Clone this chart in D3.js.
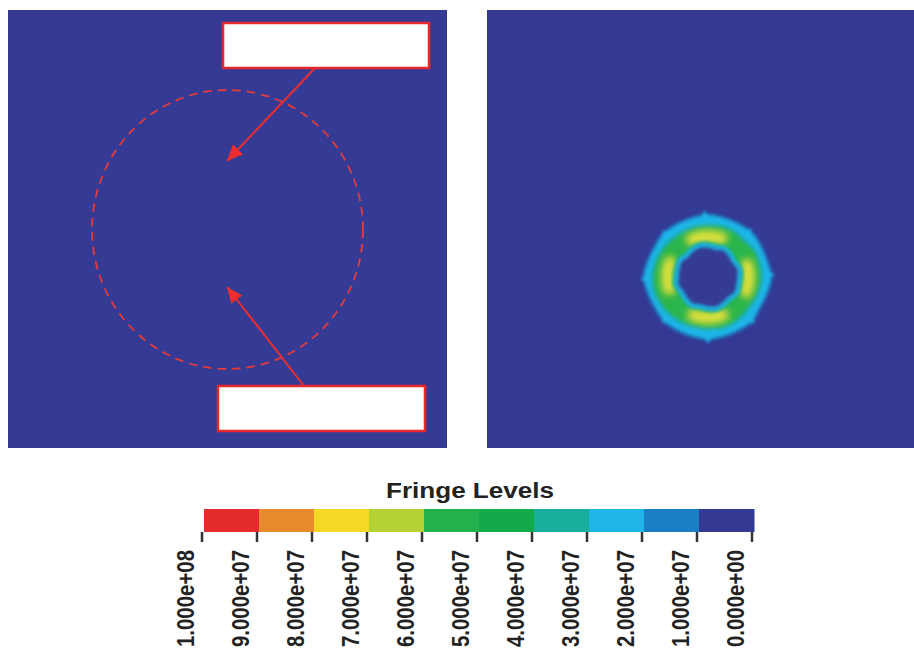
<!DOCTYPE html>
<html>
<head>
<meta charset="utf-8">
<script src="https://cdn.jsdelivr.net/npm/d3@7"></script>
<style>
  body { margin: 0; background: #fff; }
  svg { display: block; }
</style>
</head>
<body>
<svg width="914" height="656"></svg>
<script>
const svg = d3.select("svg");

// ====== Data ======

const levels = [1e8, 9e7, 8e7, 7e7, 6e7, 5e7, 4e7, 3e7, 2e7, 1e7, 0];
const levelLabels = ["1.000e+08", "9.000e+07", "8.000e+07", "7.000e+07", "6.000e+07",
    "5.000e+07", "4.000e+07", "3.000e+07", "2.000e+07", "1.000e+07", "0.000e+00"];
// colour of each band, from lowest (0-1e7) to highest (9e7-1e8)
const bandColors = ["#343a94", "#1a7ec4", "#1fb5e6", "#1aae9c", "#14a94b",
    "#22b14c", "#b4d136", "#f5d823", "#ea8a2e", "#e52b2c"];

// ring in the right panel, read around the centre every 15 degrees
const ringAngles = [0, 15, 30, 45, 60, 75, 90, 105, 120, 135, 150, 165,
    180, 195, 210, 225, 240, 255, 270, 285, 300, 315, 330, 345];
const outerEdge = [61, 60, 60, 61, 60, 60, 62, 60, 59, 61, 60, 60,
    61, 60, 60, 61, 60, 61, 63, 61, 60, 61, 60, 60];
const greenEdge = [50, 51, 51, 50, 52, 52, 52, 51, 50, 50, 51, 51,
    50, 50, 51, 52, 53, 54, 54, 53, 52, 51, 50, 50];
const holeEdge = [29, 28, 30, 29, 28, 30, 29, 29, 30, 28, 29, 30,
    29, 28, 30, 29, 28, 30, 29, 29, 30, 28, 29, 30];
// small sharp points on the outer edge
const spikeAngles = [-3, 42, 88, 135, 180, 225, 268, 315];
const spikeTips = [67, 65, 67, 66, 67, 65, 68, 65];
// value in each zone of the ring
const outerValue = 2.5e7, greenValue = 4.5e7, holeValue = 5e6;
// the four yellow patches
const patchCentres = [-2, 92, 180, 272];
const patchHalfSpan = [31, 29, 31, 29];
const patchValue = 6.5e7;

// ====== Layout ======

const leftPanel = {x: 8, y: 10, w: 439, h: 438};
const rightPanel = {x: 487, y: 10, w: 427, h: 438};
const ringCentre = [708, 277];

const color = d3.scaleQuantize().domain([0, 1e8]).range(bandColors);
const xLegend = d3.scaleLinear().domain([1e8, 0]).range([202, 752]);
const rad = d => d * Math.PI / 180;

const defs = svg.append("defs");

defs.append("marker")
    .attr("id", "head")
    .attr("viewBox", "0 -7 16 14")
    .attr("refX", 16)
    .attr("refY", 0)
    .attr("markerUnits", "userSpaceOnUse")
    .attr("markerWidth", 16)
    .attr("markerHeight", 14)
    .attr("orient", "auto")
  .append("path")
    .attr("d", "M0,-7L16,0L0,7Z")
    .attr("fill", "#ee2d2d");

defs.append("filter")
    .attr("id", "soft")
    .attr("x", "-20%").attr("y", "-20%").attr("width", "140%").attr("height", "140%")
  .append("feGaussianBlur")
    .attr("stdDeviation", 1.6);

defs.append("filter")
    .attr("id", "softer")
    .attr("x", "-30%").attr("y", "-30%").attr("width", "160%").attr("height", "160%")
  .append("feGaussianBlur")
    .attr("stdDeviation", 3);

defs.append("clipPath")
    .attr("id", "rightClip")
  .append("rect")
    .attr("x", rightPanel.x).attr("y", rightPanel.y)
    .attr("width", rightPanel.w).attr("height", rightPanel.h);

// ====== Left panel ======

const left = svg.append("g");

left.append("rect")
    .attr("x", leftPanel.x).attr("y", leftPanel.y)
    .attr("width", leftPanel.w).attr("height", leftPanel.h)
    .attr("fill", "#353b95");

left.append("ellipse")
    .attr("cx", 227.5).attr("cy", 229.5)
    .attr("rx", 135.5).attr("ry", 139.5)
    .attr("fill", "none")
    .attr("stroke", "#e53a3a")
    .attr("stroke-width", 1.8)
    .attr("stroke-dasharray", "8.5,6");

const arrows = [
    {x1: 315, y1: 68, x2: 227, y2: 161},
    {x1: 304, y1: 386, x2: 227, y2: 287}
];

left.selectAll(".arrow")
    .data(arrows)
    .enter().append("line")
        .attr("x1", d => d.x1).attr("y1", d => d.y1)
        .attr("x2", d => d.x2).attr("y2", d => d.y2)
        .attr("stroke", "#ee2d2d")
        .attr("stroke-width", 2)
        .attr("marker-end", "url(#head)");

const boxes = [
    {x: 223, y: 23, w: 206, h: 45},
    {x: 218, y: 386, w: 207, h: 45}
];

left.selectAll(".box")
    .data(boxes)
    .enter().append("rect")
        .attr("x", d => d.x).attr("y", d => d.y)
        .attr("width", d => d.w).attr("height", d => d.h)
        .attr("fill", "#fff")
        .attr("stroke", "#e8282c")
        .attr("stroke-width", 2.5);

// ====== Right panel ======

const right = svg.append("g");

right.append("rect")
    .attr("x", rightPanel.x).attr("y", rightPanel.y)
    .attr("width", rightPanel.w).attr("height", rightPanel.h)
    .attr("fill", color(holeValue));

const ringBase = right.append("g")
    .attr("clip-path", "url(#rightClip)")
  .append("g")
    .attr("transform", `translate(${ringCentre})`);

const ring = ringBase.append("g").attr("filter", "url(#soft)");

function radialShape(radii, offset) {
    return d3.lineRadial()
        .angle((d, i) => rad(ringAngles[i]))
        .radius(d => d + offset)
        .curve(d3.curveCardinalClosed)(radii);
}

function spikePath(a, tip, base) {
    return d3.lineRadial()
        .angle(d => rad(d[0]))
        .radius(d => d[1])
        .curve(d3.curveLinearClosed)([[a - 5, base], [a, tip], [a + 5, base]]);
}

// outer fringe: blue halo then cyan band with its points
ring.append("path")
    .attr("d", radialShape(outerEdge, 2.5))
    .attr("fill", color(1.5e7));
ring.selectAll(".spike")
    .data(spikeAngles)
    .enter().append("path")
        .attr("d", (d, i) => spikePath(d, spikeTips[i], 57))
        .attr("fill", color(outerValue));
ring.append("path")
    .attr("d", radialShape(outerEdge, 0))
    .attr("fill", color(outerValue));
ring.append("path")
    .attr("d", radialShape(greenEdge, 3))
    .attr("fill", color(3.5e7));
ring.append("path")
    .attr("d", radialShape(greenEdge, 0))
    .attr("fill", "#2cb54b");

// yellow patches, soft
const patches = ringBase.append("g").attr("filter", "url(#softer)");
const patchArc = d3.arc().cornerRadius(6);
patches.selectAll(".patchRim")
    .data(patchCentres)
    .enter().append("path")
        .attr("d", (d, i) => patchArc({
            innerRadius: 33, outerRadius: 48,
            startAngle: rad(d - patchHalfSpan[i]),
            endAngle: rad(d + patchHalfSpan[i])
        }))
        .attr("fill", "#9ccb3e");
patches.selectAll(".patch")
    .data(patchCentres)
    .enter().append("path")
        .attr("d", (d, i) => patchArc({
            innerRadius: 36, outerRadius: 45,
            startAngle: rad(d - patchHalfSpan[i] + 6),
            endAngle: rad(d + patchHalfSpan[i] - 6)
        }))
        .attr("fill", "#dce23c");

// inner edge of the ring and the hole
const inner = ringBase.append("g").attr("filter", "url(#soft)");
[[6, 3.5e7], [4, 2.5e7], [1.5, 1.5e7], [0, holeValue]].forEach(([off, v]) => {
    inner.append("path")
        .attr("d", radialShape(holeEdge, off))
        .attr("fill", color(v));
});

// ====== Legend ======

const legend = svg.append("g");

legend.append("text")
    .attr("x", 470).attr("y", 498)
    .attr("text-anchor", "middle")
    .attr("font-family", "Liberation Sans, Arial, sans-serif")
    .attr("font-weight", "bold")
    .attr("font-size", 22)
    .attr("textLength", 168)
    .attr("lengthAdjust", "spacingAndGlyphs")
    .attr("fill", "#222")
    .text("Fringe Levels");

legend.selectAll(".cell")
    .data(levels.slice(0, -1))
    .enter().append("rect")
        .attr("x", d => xLegend(d) + 2)
        .attr("y", 509)
        .attr("width", d => xLegend(d - 1e7) - xLegend(d) + 0.5)
        .attr("height", 23)
        .attr("fill", d => color(d - 5e6));

legend.selectAll(".tick")
    .data(levels)
    .enter().append("line")
        .attr("x1", d => xLegend(d)).attr("x2", d => xLegend(d))
        .attr("y1", 532).attr("y2", 542)
        .attr("stroke", "#333")
        .attr("stroke-width", 2.5);

legend.selectAll(".label")
    .data(levels)
    .enter().append("text")
        .attr("transform", d => `translate(${xLegend(d) - 8},550) rotate(-90)`)
        .attr("text-anchor", "end")
        .attr("font-family", "Liberation Sans Narrow, Arial Narrow, Liberation Sans, sans-serif")
        .attr("font-weight", "bold")
        .attr("font-size", 23)
        .attr("textLength", 97)
        .attr("lengthAdjust", "spacingAndGlyphs")
        .attr("fill", "#222")
        .text((d, i) => levelLabels[i]);
</script>
</body>
</html>
